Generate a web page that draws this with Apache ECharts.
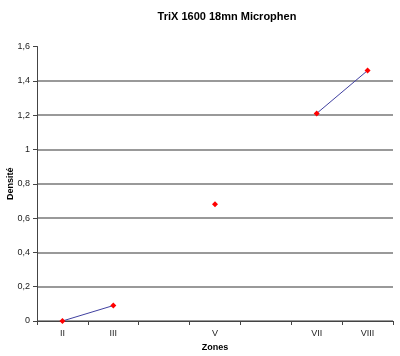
<!DOCTYPE html>
<html><head><meta charset="utf-8">
<script src="https://cdn.jsdelivr.net/npm/echarts@6/dist/echarts.min.js"></script>
<style>html,body{margin:0;padding:0;background:#fff}#c{width:400px;height:356px}</style>
</head><body><div id="c"></div>
<script>
var categories = ['II', 'III', '', 'V', '', 'VII', 'VIII'];
var densite = [0, 0.09, null, 0.68, null, 1.21, 1.46];
var yTicks = [0, 0.2, 0.4, 0.6, 0.8, 1, 1.2, 1.4, 1.6];

var chart = echarts.init(document.getElementById('c'));
var font = 'Liberation Sans, Arial, sans-serif';
chart.setOption({
  animation: false,
  backgroundColor: '#fff',
  title: {
    text: 'TriX 1600 18mn Microphen',
    left: 222, top: 6, textAlign: 'center',
    textStyle: {fontFamily: font, fontSize: 11, fontWeight: 'bold', color: '#000'}
  },
  grid: {left: 37, right: 7, top: 46.5, bottom: 35, containLabel: false, outerBoundsMode: 'none'},
  xAxis: {
    type: 'category', data: categories, boundaryGap: true,
    name: 'Zones', nameLocation: 'middle', nameGap: 22, nameMoveOverlap: false,
    nameTextStyle: {fontFamily: font, fontSize: 9, fontWeight: 'bold', color: '#000'},
    axisLine: {lineStyle: {color: '#444', width: 1}},
    axisTick: {show: true, alignWithLabel: false, length: 4, interval: 0, lineStyle: {color: '#444'}},
    axisLabel: {interval: 0, margin: 8, fontFamily: font, fontSize: 9, color: '#222'},
    splitLine: {show: false}
  },
  yAxis: {
    type: 'value', min: yTicks[0], max: yTicks[yTicks.length - 1], interval: 0.2,
    name: 'Densité', nameLocation: 'middle', nameGap: 22, nameMoveOverlap: false,
    nameTextStyle: {fontFamily: font, fontSize: 9, fontWeight: 'bold', color: '#000'},
    axisLine: {show: true, lineStyle: {color: '#444', width: 1}},
    axisTick: {show: true, length: 4, lineStyle: {color: '#444'}},
    axisLabel: {
      margin: 7, fontFamily: font, fontSize: 9, color: '#222',
      formatter: function (v) { return String(Math.round(v * 10) / 10).replace('.', ','); }
    },
    splitLine: {show: true, lineStyle: {width: 1.5, color: ['#777', '#777', '#777', '#777', '#777', '#777', '#777', '#777', 'rgba(0,0,0,0)']}}
  },
  series: [{
    type: 'line', data: densite, connectNulls: false,
    symbol: 'diamond', symbolSize: 6, showSymbol: true,
    itemStyle: {color: '#ff0000'},
    lineStyle: {color: '#4040a0', width: 1}
  }]
});
</script></body></html>
